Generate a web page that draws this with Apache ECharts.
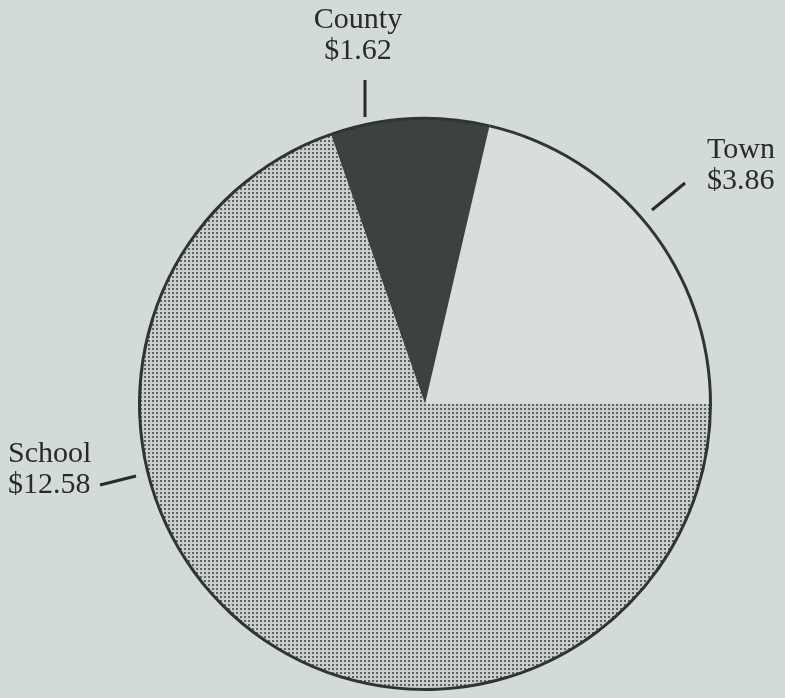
<!DOCTYPE html>
<html>
<head>
<meta charset="utf-8">
<script src="https://cdn.jsdelivr.net/npm/echarts@6/dist/echarts.min.js"></script>
<style>
html, body { margin: 0; padding: 0; background: #d3dada; }
#main { width: 785px; height: 698px; }
</style>
</head>
<body>
<div id="main"></div>
<script>
// tax dollar split
var categories = ['Town', 'County', 'School'];
var amounts = [3.86, 1.62, 12.58];

// where each label sits and its little tick line
var labelSpots = [
  { x: 707, y: 166, align: 'left', line: [[652, 210], [685, 183]] },
  { x: 358, y: 36, align: 'center', line: [[365, 117], [365, 80]] },
  { x: 8, y: 470, align: 'left', line: [[136, 476], [100, 485]] }
];

// dotted screen for the school slice
var tile = document.createElement('canvas');
tile.width = 4;
tile.height = 4;
var tctx = tile.getContext('2d');
tctx.fillStyle = '#c9cfcf';
tctx.fillRect(0, 0, 4, 4);
tctx.fillStyle = '#5d6363';
tctx.fillRect(0, 0, 2, 2);

var sliceColors = ['#d8dede', '#3c4141', { image: tile, repeat: 'repeat' }];

var pieData = categories.map(function (name, i) {
  return { name: name, value: amounts[i], itemStyle: { color: sliceColors[i] } };
});

var dom = document.getElementById('main');
var myChart = echarts.init(dom);
var option = {
  backgroundColor: '#d3dada',
  animation: false,
  series: [
    {
      type: 'pie',
      center: [425, 404],
      radius: 285,
      startAngle: 0,
      clockwise: false,
      silent: true,
      data: pieData,
      itemStyle: { borderWidth: 0 },
      label: {
        show: true,
        position: 'outside',
        formatter: function (p) {
          return p.name + '\n$' + p.value.toFixed(2);
        },
        fontFamily: 'Liberation Serif',
        fontSize: 30,
        lineHeight: 31,
        color: '#2a2a2a'
      },
      labelLine: {
        show: true,
        length: 20,
        length2: 0,
        lineStyle: { color: '#2a2a2a', width: 3 }
      },
      labelLayout: function (params) {
        var s = labelSpots[params.dataIndex];
        return {
          x: s.x,
          y: s.y,
          align: s.align,
          verticalAlign: 'middle',
          labelLinePoints: [s.line[0], s.line[1], s.line[1]]
        };
      }
    },
    {
      // dark rim around the pie
      type: 'pie',
      center: [425, 404],
      radius: [284, 287],
      startAngle: 0,
      clockwise: false,
      silent: true,
      data: amounts,
      label: { show: false },
      labelLine: { show: false },
      itemStyle: { color: '#303434', borderWidth: 0 }
    }
  ]
};

if (option && typeof option === 'object') {
  myChart.setOption(option);
}
</script>
</body>
</html>
